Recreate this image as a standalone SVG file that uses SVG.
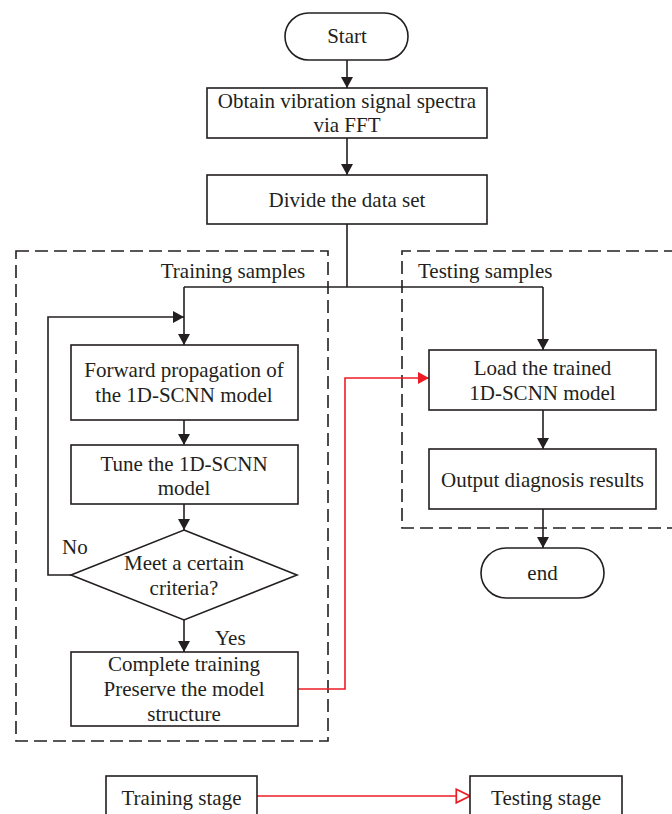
<svg xmlns="http://www.w3.org/2000/svg" width="672" height="814" viewBox="0 0 672 814">
<defs>
<marker id="ah" viewBox="0 0 11 12" refX="11" refY="6" markerWidth="11" markerHeight="12" markerUnits="userSpaceOnUse" orient="auto">
<path d="M0,0 L11,6 L0,12 Z" fill="#231f20"/>
</marker>
<marker id="ahr" viewBox="0 0 11 12" refX="11" refY="6" markerWidth="11" markerHeight="12" markerUnits="userSpaceOnUse" orient="auto">
<path d="M0,0 L11,6 L0,12 Z" fill="#ed1c24"/>
</marker>
<marker id="aho" viewBox="0 0 14 14" refX="13" refY="7" markerWidth="16" markerHeight="16" markerUnits="userSpaceOnUse" orient="auto">
<path d="M1,1 L13,7 L1,13 Z" fill="#fff" stroke="#ed1c24" stroke-width="1.5"/>
</marker>
</defs>
<style>
.n{fill:#fff;stroke:#231f20;stroke-width:1.6}
.t{font-family:"Liberation Serif","Times New Roman",serif;font-size:21px;fill:#231f20;text-anchor:middle}
.l{font-family:"Liberation Serif","Times New Roman",serif;font-size:21px;fill:#231f20}
.c{fill:none;stroke:#231f20;stroke-width:1.6}
.r{fill:none;stroke:#ed1c24;stroke-width:1.6}
.d{fill:none;stroke:#231f20;stroke-width:1.6;stroke-dasharray:13 6}
</style>
<rect width="672" height="814" fill="#fff"/>

<g id="groups">
<rect id="training-group" class="d" x="16" y="251" width="312" height="490"/>
<path id="testing-group" class="d" d="M680,528 L402,528 L402,251 L680,251"/>
<text class="t" x="233" y="278">Training samples</text>
<text class="l" x="418" y="278">Testing samples</text>
</g>

<g id="connectors">
<line class="c" x1="347" y1="60" x2="347" y2="88" marker-end="url(#ah)"/>
<line class="c" x1="347" y1="138" x2="347" y2="175" marker-end="url(#ah)"/>
<polyline class="c" points="347,224 347,287"/>
<polyline class="c" points="184,287 543,287"/>
<line class="c" x1="184" y1="287" x2="184" y2="345" marker-end="url(#ah)"/>
<line class="c" x1="543" y1="287" x2="543" y2="350" marker-end="url(#ah)"/>
<line class="c" x1="184" y1="420" x2="184" y2="445" marker-end="url(#ah)"/>
<line class="c" x1="184" y1="504" x2="184" y2="530" marker-end="url(#ah)"/>
<polyline class="c" points="71,575 48,575 48,317 184,317" marker-end="url(#ah)"/>
<line class="c" x1="184" y1="620" x2="184" y2="652" marker-end="url(#ah)"/>
<polyline class="r" points="297,689 345,689 345,378 429,378" marker-end="url(#ahr)"/>
<line class="c" x1="543" y1="410" x2="543" y2="449" marker-end="url(#ah)"/>
<line class="c" x1="543" y1="509" x2="543" y2="548" marker-end="url(#ah)"/>
<line class="r" x1="257" y1="796" x2="470" y2="796" marker-end="url(#aho)"/>
<text class="l" x="62" y="554">No</text>
<text class="l" x="215" y="645">Yes</text>
</g>

<g id="start">
<rect class="n" x="285" y="13" width="123" height="47" rx="23.5"/>
<text class="t" x="347" y="43">Start</text>
</g>
<g id="obtain">
<rect class="n" x="207" y="88" width="280" height="50"/>
<text class="t" x="347" y="108">Obtain vibration signal spectra</text>
<text class="t" x="347" y="132">via FFT</text>
</g>
<g id="divide">
<rect class="n" x="207" y="175" width="280" height="49"/>
<text class="t" x="347" y="207">Divide the data set</text>
</g>
<g id="forward">
<rect class="n" x="71" y="345" width="227" height="75"/>
<text class="t" x="184" y="377">Forward propagation of</text>
<text class="t" x="184" y="402">the 1D-SCNN model</text>
</g>
<g id="tune">
<rect class="n" x="71" y="445" width="227" height="59"/>
<text class="t" x="184" y="471">Tune the 1D-SCNN</text>
<text class="t" x="184" y="495">model</text>
</g>
<g id="criteria">
<polygon class="n" points="184,530 297,575 184,620 71,575"/>
<text class="t" x="184" y="570">Meet a certain</text>
<text class="t" x="184" y="595">criteria?</text>
</g>
<g id="complete">
<rect class="n" x="71" y="652" width="227" height="74"/>
<text class="t" x="184" y="671">Complete training</text>
<text class="t" x="184" y="696">Preserve the model</text>
<text class="t" x="184" y="721">structure</text>
</g>
<g id="load">
<rect class="n" x="429" y="350" width="227" height="60"/>
<text class="t" x="542.5" y="375">Load the trained</text>
<text class="t" x="542.5" y="400">1D-SCNN model</text>
</g>
<g id="output">
<rect class="n" x="429" y="449" width="227" height="60"/>
<text class="t" x="542.5" y="487">Output diagnosis results</text>
</g>
<g id="end">
<rect class="n" x="481" y="548" width="123" height="50" rx="25"/>
<text class="t" x="542.5" y="580">end</text>
</g>
<g id="legend-training">
<rect class="n" x="106" y="776" width="151" height="50"/>
<text class="t" x="181.5" y="805">Training stage</text>
</g>
<g id="legend-testing">
<rect class="n" x="470" y="776" width="152" height="50"/>
<text class="t" x="546" y="805">Testing stage</text>
</g>
</svg>
